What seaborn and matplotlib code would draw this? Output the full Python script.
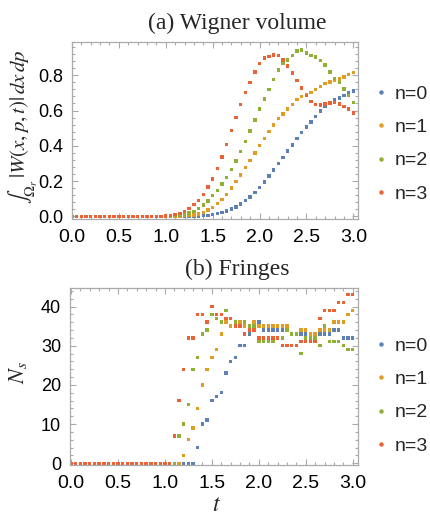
import numpy as np
import pandas as pd
import matplotlib
matplotlib.use("Agg")
import matplotlib.pyplot as plt
import seaborn as sns
from matplotlib.lines import Line2D
from matplotlib.ticker import MultipleLocator

# time grid (shared by both panels)
t = np.round(np.arange(61) * 0.05, 2)
series = ["n=0", "n=1", "n=2", "n=3"]
colors = ["#5E81B5", "#E19C24", "#8FB032", "#EB6235"]

# (a) Wigner volume
vol_n0 = [0.0] * 27 + [0.002, 0.004, 0.006, 0.010, 0.015, 0.023, 0.030, 0.042, 0.053, 0.070,
                       0.089, 0.110, 0.134, 0.163, 0.195, 0.229, 0.263, 0.299, 0.335, 0.371,
                       0.405, 0.443, 0.477, 0.506, 0.534, 0.566, 0.597, 0.623, 0.642, 0.661,
                       0.672, 0.687, 0.699, 0.712]
vol_n1 = [0.0] * 24 + [0.003, 0.005, 0.008, 0.013, 0.023, 0.036, 0.051, 0.072, 0.095, 0.125,
                       0.160, 0.197, 0.235, 0.277, 0.318, 0.360, 0.401, 0.443, 0.481, 0.517,
                       0.555, 0.581, 0.608, 0.634, 0.663, 0.680, 0.691, 0.702, 0.718, 0.736,
                       0.752, 0.761, 0.769, 0.778, 0.791, 0.806, 0.816]
vol_n2 = [0.0] * 22 + [0.005, 0.008, 0.013, 0.019, 0.028, 0.045, 0.064, 0.087, 0.117, 0.148,
                       0.183, 0.220, 0.265, 0.314, 0.369, 0.424, 0.483, 0.547, 0.608, 0.666,
                       0.721, 0.775, 0.831, 0.869, 0.886, 0.911, 0.937, 0.943, 0.926, 0.911,
                       0.903, 0.884, 0.858, 0.818, 0.782, 0.759, 0.723, 0.687, 0.647]
vol_n3 = [0.0] * 20 + [0.002, 0.005, 0.009, 0.015, 0.026, 0.044, 0.066, 0.090, 0.123, 0.167,
                       0.212, 0.271, 0.337, 0.407, 0.487, 0.561, 0.634, 0.703, 0.760, 0.818,
                       0.867, 0.898, 0.905, 0.915, 0.911, 0.886, 0.852, 0.812, 0.771, 0.727,
                       0.687, 0.653, 0.634, 0.632, 0.636, 0.642, 0.645, 0.636, 0.623, 0.608,
                       0.585]

# (b) number of fringes
fr_n0 = [0] * 27 + [4, 10, 11, 16, 17, 18, 23, 26, 27, 30, 30, 33, 35, 36, 34, 34, 34, 34, 34,
                    34, 33, 33, 33, 33, 33, 33, 33, 33, 33, 34, 34, 32, 32, 32]
fr_n1 = [0] * 24 + [2, 6, 9, 14, 20, 24, 27, 29, 33, 36, 35, 35, 36, 35, 35, 36, 35, 35, 35, 35,
                    35, 35, 35, 33, 33, 34, 34, 33, 33, 34, 34, 34, 36, 36, 36, 38, 39]
fr_n2 = [0] * 23 + [7, 10, 15, 24, 27, 33, 34, 38, 37, 36, 39, 37, 36, 35, 36, 35, 35, 31, 31,
                    31, 31, 32, 32, 34, 33, 33, 28, 32, 32, 32, 30, 35, 31, 31, 31, 30, 29, 29]
fr_n3 = [0] * 22 + [7, 16, 24, 32, 32, 38, 38, 36, 40, 38, 38, 37, 37, 35, 35, 33, 34, 34, 32,
                    32, 32, 32, 32, 30, 30, 30, 30, 31, 31, 31, 31, 37, 39, 39, 39, 41, 41, 43, 43]


def long_frame(cols):
    return pd.DataFrame({
        "t": np.tile(t, len(cols)),
        "value": np.concatenate(cols),
        "n": np.repeat(series, len(t)),
    })


sns.set_style("ticks")
plt.rcParams["font.family"] = ["Liberation Sans", "DejaVu Sans"]
plt.rcParams["mathtext.fontset"] = "stix"

fig = plt.figure(figsize=(4.3, 5.23), dpi=100)
W, H = 430, 523
ax_a = fig.add_axes([71.5 / W, 1 - 219.3 / H, 286.5 / W, 177.5 / H])
ax_b = fig.add_axes([69.5 / W, 1 - 465 / H, 288.5 / W, 177.3 / H])

panels = [
    (ax_a, long_frame([vol_n0, vol_n1, vol_n2, vol_n3]), "(a) Wigner volume", 0.579),
    (ax_b, long_frame([fr_n0, fr_n1, fr_n2, fr_n3]), "(b) Fringes", 0.582),
]

for ax, df, title, tx in panels:
    sns.scatterplot(data=df, x="t", y="value", hue="n", palette=colors, marker="s",
                    s=6, linewidth=0, ax=ax, legend=False)
    ax.set_title(title, fontfamily="Liberation Serif", fontsize=17, pad=9, x=tx)
    ax.set_xlabel("")
    ax.set_ylabel("")
    ax.set_xticks([0, 0.5, 1.0, 1.5, 2.0, 2.5, 3.0])
    ax.set_xticklabels(["0.0", "0.5", "1.0", "1.5", "2.0", "2.5", "3.0"])
    ax.xaxis.set_minor_locator(MultipleLocator(0.1))
    ax.tick_params(which="both", direction="in", top=True, right=True, color="#aaaaaa",
                   labelcolor="black", width=0.8)
    ax.tick_params(which="major", length=4)
    ax.tick_params(which="minor", length=2)
    ax.tick_params(axis="x", which="major", pad=7, labelsize=14)
    ax.tick_params(axis="y", which="major", pad=6, labelsize=13)
    for sp in ax.spines.values():
        sp.set_color("#aaaaaa")
        sp.set_linewidth(0.9)

ax_a.set_xlim(-0.005, 3.05)
ax_a.set_ylim(-0.017, 0.99)
ax_a.set_yticks([0.0, 0.2, 0.4, 0.6, 0.8])
ax_a.set_yticklabels(["0.0", "0.2", "0.4", "0.6", "0.8"])
ax_a.yaxis.set_minor_locator(MultipleLocator(0.04))

ax_b.set_xlim(-0.016, 3.056)
ax_b.set_ylim(-0.43, 44.8)
ax_b.set_yticks([0, 10, 20, 30, 40])
ax_b.yaxis.set_minor_locator(MultipleLocator(2))

fig.text(23 / W, 1 - 127 / H, r"$\int_{\Omega_r}\,|W(x,p,t)|\,dx\,dp$", rotation=90,
         ha="center", va="center", fontsize=15)
fig.text(18 / W, 1 - 373 / H, r"$N_s$", rotation=90, ha="center", va="center", fontsize=16)
fig.text(217 / W, 1 - 505 / H, r"$t$", ha="center", va="center", fontsize=17)

handles = [Line2D([], [], marker="o", linestyle="", markersize=3.2, color=c,
                  markeredgewidth=0) for c in colors]
for yc in (1 - 144 / H, 1 - 396 / H):
    fig.legend(handles, series, loc="center left", bbox_to_anchor=(375 / W, yc),
               frameon=False, fontsize=14, handlelength=0.6, handletextpad=0.4,
               labelspacing=0.8, borderpad=0, borderaxespad=0)

fig.savefig("out.png", dpi=100)
